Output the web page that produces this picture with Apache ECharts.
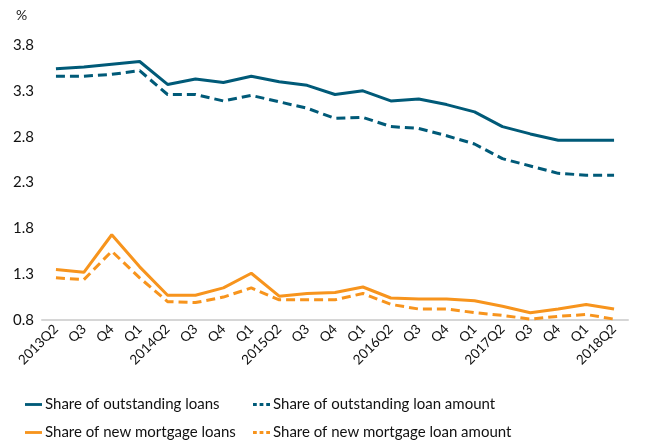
<!DOCTYPE html>
<html><head><meta charset="utf-8">
<script src="https://cdn.jsdelivr.net/npm/echarts@6/dist/echarts.min.js"></script>
<style>html,body{margin:0;padding:0;background:#fff}#c{width:655px;height:448px}</style>
</head><body><div id="c"></div>
<script>
const categories = ['2013Q2','Q3','Q4','Q1','2014Q2','Q3','Q4','Q1','2015Q2','Q3','Q4','Q1','2016Q2','Q3','Q4','Q1','2017Q2','Q3','Q4','Q1','2018Q2'];
const outstandingLoans = [3.54,3.56,3.59,3.62,3.37,3.43,3.39,3.46,3.40,3.36,3.26,3.30,3.19,3.21,3.15,3.07,2.91,2.83,2.76,2.76,2.76];
const outstandingAmount = [3.46,3.46,3.48,3.52,3.26,3.26,3.19,3.25,3.18,3.11,3.00,3.01,2.91,2.89,2.81,2.72,2.56,2.48,2.40,2.38,2.38];
const newLoans = [1.35,1.32,1.73,1.38,1.07,1.07,1.15,1.31,1.06,1.09,1.10,1.16,1.04,1.03,1.03,1.01,0.95,0.88,0.92,0.97,0.92];
const newAmount = [1.26,1.24,1.55,1.26,1.00,0.99,1.05,1.15,1.02,1.02,1.02,1.09,0.97,0.92,0.92,0.88,0.85,0.81,0.84,0.86,0.81];
const yTicks = [0.8,1.3,1.8,2.3,2.8,3.3,3.8];

const TEAL = '#005a78', ORANGE = '#f7941d';
const FONT = 'Lato';
const SOLID_ICON = 'path://M0,0H18V3H0Z';
const DASH_ICON = 'path://M0,0H4V3H0Z M7,0H11V3H7Z M14,0H18V3H14Z';
const chart = echarts.init(document.getElementById('c'), null, {renderer:'canvas'});
function s(name, data, color, type){
  return {name, type:'line', data, symbol:'none', showSymbol:false, smooth:false,
    lineStyle:{color, width:3, type: type==='dashed'?[9,5]:'solid'}, itemStyle:{color}};
}
function legendAt(left, items, icon){
  return {orient:'vertical', left, top:397, height:80, padding:0, itemGap:13, itemWidth:17, itemHeight:3,
    textStyle:{fontFamily:FONT, fontSize:15, color:'#111', padding:[0,0,0,-2]},
    data: items.map(n=>({name:n, icon}))};
}
chart.setOption({
  animation:false,
  grid:{left:42, right:27, top:45, bottom:128},
  graphic:[{type:'text', left:16, top:8, style:{text:'%', font:'14px '+FONT, fill:'#222'}}],
  legend:[
    legendAt(25, ['Share of outstanding loans','Share of new mortgage loans'], SOLID_ICON),
    legendAt(253, ['Share of outstanding loan amount','Share of new mortgage loan amount'], DASH_ICON)
  ],
  xAxis:{type:'category', data:categories, boundaryGap:true,
    axisLine:{lineStyle:{color:'#d6d6d6', width:2}}, axisTick:{show:false},
    axisLabel:{interval:0, rotate:45, fontFamily:FONT, fontSize:13.5, color:'#111', margin:7}},
  yAxis:{type:'value', min:0.8, max:3.8, interval:0.5,
    axisLine:{show:false}, axisTick:{show:false}, splitLine:{show:false},
    axisLabel:{fontFamily:FONT, fontSize:15, color:'#111', margin:8,
      formatter:v=>{const t=yTicks.find(x=>Math.abs(x-v)<1e-6);return t!==undefined?t.toFixed(1):'';}}},
  series:[
    s('Share of outstanding loans', outstandingLoans, TEAL, 'solid'),
    s('Share of outstanding loan amount', outstandingAmount, TEAL, 'dashed'),
    s('Share of new mortgage loans', newLoans, ORANGE, 'solid'),
    s('Share of new mortgage loan amount', newAmount, ORANGE, 'dashed')
  ]
});
</script></body></html>
